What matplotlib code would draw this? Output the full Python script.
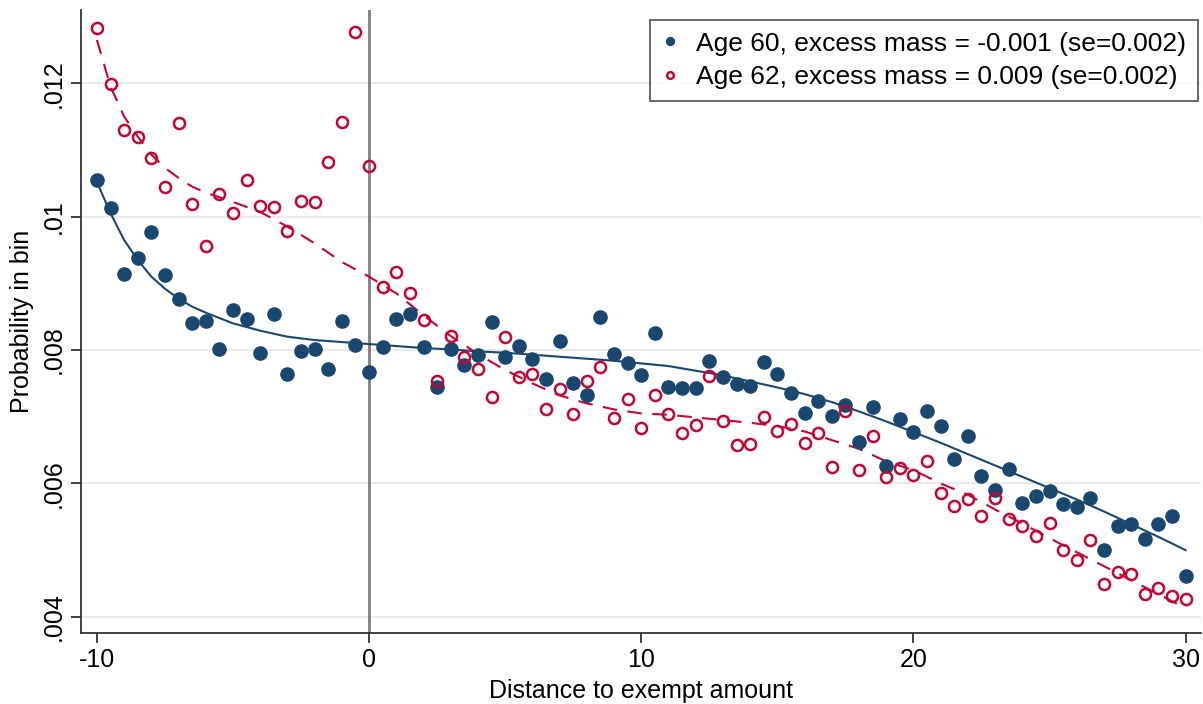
import numpy as np
import matplotlib.pyplot as plt
from matplotlib.ticker import FuncFormatter

# bins of distance to exempt amount
bins = np.arange(-10, 30.5, 0.5)

age60 = [0.01055, 0.01013, 0.00914, 0.00938, 0.00977, 0.00913, 0.00877, 0.00841, 0.00844, 0.00802,
         0.0086, 0.00847, 0.00795, 0.00854, 0.00764, 0.00798, 0.00802, 0.00772, 0.00844, 0.00807,
         0.00767, 0.00804, 0.00846, 0.00854, 0.00805, 0.00744, 0.00802, 0.00778, 0.00793, 0.00842,
         0.00789, 0.00806, 0.00787, 0.00757, 0.00814, 0.00751, 0.00733, 0.0085, 0.00794, 0.00781,
         0.00763, 0.00826, 0.00744, 0.00743, 0.00743, 0.00784, 0.0076, 0.00749, 0.00746, 0.00782,
         0.00764, 0.00735, 0.00706, 0.00724, 0.00701, 0.00718, 0.00662, 0.00714, 0.00626, 0.00697,
         0.00677, 0.00709, 0.00686, 0.00636, 0.00671, 0.00611, 0.0059, 0.00622, 0.00571, 0.00581,
         0.00589, 0.00569, 0.00564, 0.00578, 0.00501, 0.00536, 0.00539, 0.00517, 0.00539, 0.00551,
         0.00461]

age62 = [0.01283, 0.01199, 0.0113, 0.0112, 0.01088, 0.01045, 0.0114, 0.01019, 0.00956, 0.01034,
         0.01006, 0.01055, 0.01016, 0.01014, 0.00979, 0.01024, 0.01022, 0.01082, 0.01142, 0.01277,
         0.01076, 0.00894, 0.00917, 0.00886, 0.00845, 0.00754, 0.00821, 0.00789, 0.00772, 0.00729,
         0.0082, 0.00759, 0.00764, 0.00711, 0.00742, 0.00704, 0.00754, 0.00775, 0.00698, 0.00726,
         0.00683, 0.00733, 0.00704, 0.00675, 0.00688, 0.00761, 0.00694, 0.00658, 0.00659, 0.00699,
         0.00678, 0.00689, 0.0066, 0.00676, 0.00625, 0.00708, 0.0062, 0.00671, 0.0061, 0.00623,
         0.00613, 0.00634, 0.00585, 0.00566, 0.00576, 0.00551, 0.00578, 0.00546, 0.00536, 0.00521,
         0.00541, 0.005, 0.00486, 0.00515, 0.00449, 0.00468, 0.00465, 0.00434, 0.00444, 0.00431,
         0.00427]

# fitted counterfactual curves
fit60_x = [-10, -9.5, -9, -8.5, -8, -7.5, -7, -6.5, -6, -5, -4, -3, -2, -1, 0, 1, 2, 3, 4, 5, 6, 7,
           8, 9, 10, 11, 12, 13, 14, 15, 16, 17, 18, 19, 20, 21, 22, 23, 24, 25, 26, 27, 28, 29, 30]
fit60_y = [0.01052, 0.01005, 0.00965, 0.00935, 0.0091, 0.00892, 0.00877, 0.00865, 0.00856, 0.0084,
           0.00829, 0.0082, 0.00815, 0.00812, 0.00809, 0.00806, 0.00803, 0.00801, 0.00798, 0.00796,
           0.00793, 0.0079, 0.00787, 0.00784, 0.0078, 0.00776, 0.00769, 0.00762, 0.00753, 0.00744,
           0.00734, 0.00722, 0.00708, 0.00693, 0.00677, 0.00661, 0.00644, 0.00627, 0.0061, 0.00593,
           0.00576, 0.00558, 0.00539, 0.0052, 0.005]

fit62_x = fit60_x
fit62_y = [0.01265, 0.01195, 0.0115, 0.0112, 0.01093, 0.01073, 0.01058, 0.01045, 0.01036, 0.01022,
           0.01007, 0.00985, 0.0096, 0.00932, 0.0091, 0.00885, 0.00852, 0.00821, 0.00794, 0.0077,
           0.0075, 0.00732, 0.0072, 0.00711, 0.00705, 0.00703, 0.00699, 0.00695, 0.00691, 0.00686,
           0.00678, 0.00665, 0.00652, 0.00633, 0.0062, 0.006, 0.00583, 0.00561, 0.0054, 0.00518,
           0.00497, 0.00476, 0.00455, 0.00434, 0.00413]

yticks = [0.004, 0.006, 0.008, 0.010, 0.012]
xticks = [-10, 0, 10, 20, 30]

blue = '#1a476f'
red = '#c10534'

plt.rcParams['font.family'] = ['Liberation Sans', 'DejaVu Sans']
plt.rcParams['axes.unicode_minus'] = False

fig = plt.figure(figsize=(12.03, 7.04), dpi=100)
ax = fig.add_axes([0.067, 0.101, 0.931, 0.885])

for y in yticks:
    ax.axhline(y, color='#eaeaea', lw=1.5, zorder=0)
ax.axvline(0, color='#7f7f7f', lw=2, zorder=1)

ax.plot(fit60_x, fit60_y, color=blue, lw=1.5, zorder=2)
ax.plot(fit62_x, fit62_y, color=red, lw=1.5, ls=(0, (7, 5)), zorder=2)

ax.plot(bins, age60, 'o', color=blue, ms=9.5, mec=blue, zorder=3,
        label='Age 60, excess mass = -0.001 (se=0.002)')
ax.plot(bins, age62, 'o', mfc='none', mec=red, mew=1.8, ms=8, zorder=3,
        label='Age 62, excess mass = 0.009 (se=0.002)')

ax.set_xlim(-10.6, 30.55)
ax.set_ylim(0.00376, 0.0131)
ax.set_xticks(xticks)
ax.set_yticks(yticks)
ax.yaxis.set_major_formatter(FuncFormatter(lambda v, p: ('%g' % v).lstrip('0')))
ax.tick_params(axis='both', labelsize=18, length=7, width=1.3, color='#333333', pad=4)
plt.setp(ax.get_yticklabels(), rotation=90, va='center')

for side in ['top', 'right']:
    ax.spines[side].set_visible(False)
for side in ['left', 'bottom']:
    ax.spines[side].set_linewidth(1.3)
    ax.spines[side].set_color('#333333')

ax.set_xlabel('Distance to exempt amount', fontsize=18, labelpad=5)
ax.set_ylabel('Probability in bin', fontsize=18, labelpad=5)

leg = ax.legend(loc='upper right', fontsize=19, frameon=True, fancybox=False,
                edgecolor='#333333', markerscale=0.6, handlelength=0.6,
                handletextpad=0.7, borderpad=0.45, labelspacing=0.35,
                borderaxespad=0, bbox_to_anchor=(0.998, 0.984))
leg.get_frame().set_linewidth(1.3)

fig.savefig('out.png', dpi=100, facecolor='white')
